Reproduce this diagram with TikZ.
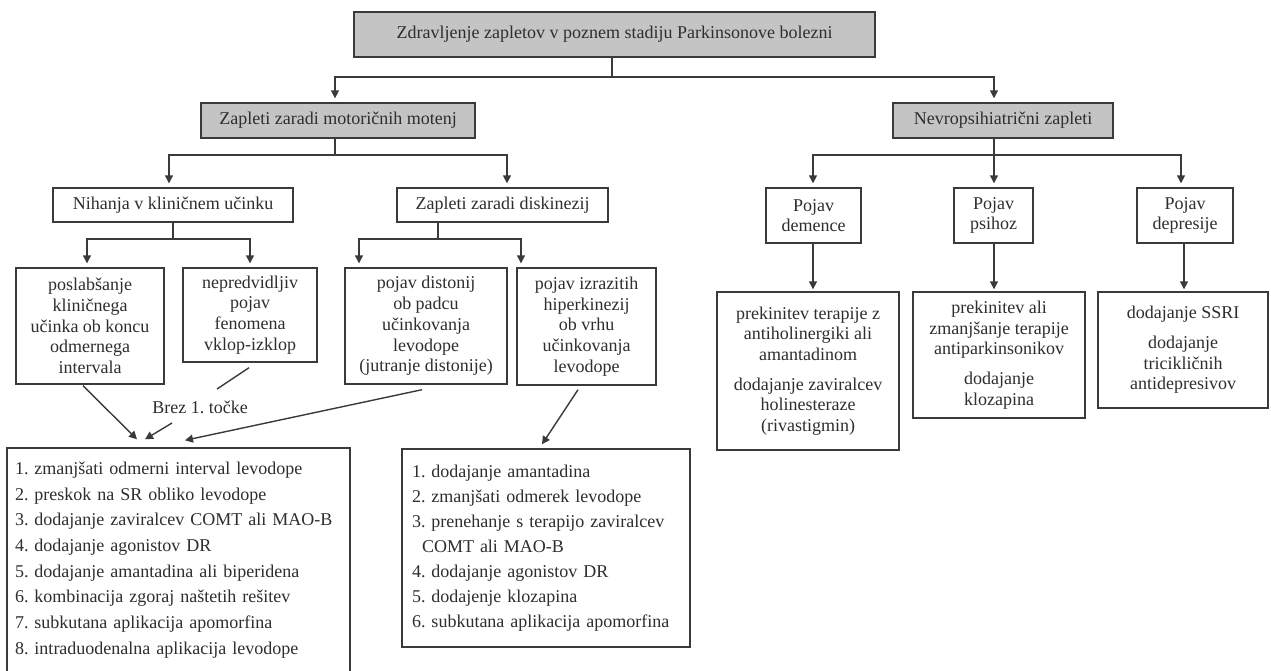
\documentclass[tikz,border=0pt]{standalone}
\usepackage{fontspec}
\setmainfont{Liberation Serif}
\usetikzlibrary{arrows.meta}
\definecolor{ln}{HTML}{3A3A3A}
\definecolor{tx}{HTML}{2E2E2E}
\definecolor{gf}{HTML}{C4C4C4}
\frenchspacing
\begin{document}
\begin{tikzpicture}[x=1pt,y=-1pt,
  box/.style={draw=ln, line width=1.4pt, inner sep=0pt, align=center, text=tx, font=\fontsize{18}{20.7}\selectfont},
  gbox/.style={box, fill=gf},
  listbox/.style={box, align=left, inner xsep=8pt},
  conn/.style={draw=ln, line width=1.4pt},
  arr/.style={conn, -{Triangle[length=8pt,width=8pt]}, shorten >=4pt},
  lbl/.style={text=tx, inner sep=0pt, font=\fontsize{18}{20.7}\selectfont},
]
\useasboundingbox (0,0) rectangle (1271,670);
\clip (0,0) rectangle (1271,670);
\fill[white] (0,0) rectangle (1271,670);

% level 0/1
\node[gbox, minimum width=521pt, minimum height=45pt] (top) at (614.5,34.5) {Zdravljenje zapletov v poznem stadiju Parkinsonove bolezni};
\node[gbox, minimum width=274pt, minimum height=35pt] (motor) at (338,120.5) {Zapleti zaradi motoričnih motenj};
\node[gbox, minimum width=220pt, minimum height=35pt] (nevro) at (1003,120.5) {Nevropsihiatrični zapleti};

% level 2
\node[box, minimum width=240pt, minimum height=34pt] (nih) at (173,205) {Nihanja v kliničnem učinku};
\node[box, minimum width=211pt, minimum height=34pt] (disk) at (502.5,205) {Zapleti zaradi diskinezij};
\node[box, minimum width=95pt, minimum height=55pt] (dem) at (813.5,215.5) {Pojav\\demence};
\node[box, minimum width=79pt, minimum height=55pt] (psi) at (993.5,215.5) {Pojav\\psihoz};
\node[box, minimum width=96pt, minimum height=55pt] (dep) at (1185,215.5) {Pojav\\depresije};

% level 3
\node[box, minimum width=148pt, minimum height=116pt] (posl) at (90,326) {poslabšanje\\kliničnega\\učinka ob koncu\\odmernega\\intervala};
\node[box, minimum width=134pt, minimum height=94pt] (nepr) at (250,315) {nepredvidljiv\\pojav\\fenomena\\vklop-izklop};
\node[box, minimum width=162pt, minimum height=116pt] (dist) at (426,326) {pojav distonij\\ob padcu\\učinkovanja\\levodope\\(jutranje distonije)};
\node[box, minimum width=139pt, minimum height=117pt] (hip) at (586.5,326.5) {pojav izrazitih\\hiperkinezij\\ob vrhu\\učinkovanja\\levodope};

\node[box, minimum width=182pt, minimum height=158pt] (demT) at (808,371) {prekinitev terapije z\\antiholinergiki ali\\amantadinom\\[9pt]dodajanje zaviralcev\\holinesteraze\\(rivastigmin)};
\node[box, minimum width=172pt, minimum height=126pt] (psiT) at (999,355) {prekinitev ali\\zmanjšanje terapije\\antiparkinsonikov\\[9pt]dodajanje\\klozapina};
\node[box, minimum width=170pt, minimum height=116pt] (depT) at (1183,350) {dodajanje SSRI\\[9pt]dodajanje\\tricikličnih\\antidepresivov};

% lists
\node[listbox, text width=327pt, minimum height=224pt, font=\fontsize{18}{25.7}\selectfont] (L1) at (178.5,560) {1. zmanjšati odmerni interval levodope\\2. preskok na SR obliko levodope\\3. dodajanje zaviralcev COMT ali MAO-B\\4. dodajanje agonistov DR\\5. dodajanje amantadina ali biperidena\\6. kombinacija zgoraj naštetih rešitev\\7. subkutana aplikacija apomorfina\\8. intraduodenalna aplikacija levodope};
\node[listbox, inner xsep=10pt, text width=268pt, minimum height=198pt, font=\fontsize{18}{25}\selectfont] (L2) at (546,548) {1. dodajanje amantadina\\2. zmanjšati odmerek levodope\\3. prenehanje s terapijo zaviralcev\\\hspace*{10pt}COMT ali MAO-B\\4. dodajanje agonistov DR\\5. dodajenje klozapina\\6. subkutana aplikacija apomorfina};

\node[lbl] (brez) at (200,407) {Brez 1. točke};

% junction and column coordinates
\coordinate (c0) at (612,77);
\coordinate (c1) at (335,155);
\coordinate (c2) at (994,155);
\coordinate (c3) at (173,239);
\coordinate (c4) at (438,239);
\coordinate (x169) at (169,0);
\coordinate (x507) at (507,0);
\coordinate (x813) at (813,0);
\coordinate (x1181) at (1181,0);
\coordinate (x87) at (87,0);
\coordinate (x250) at (250,0);
\coordinate (x359) at (359,0);
\coordinate (x521) at (521,0);
\coordinate (x1184) at (1184,0);

% tree connectors
\draw[conn] (c0 |- top.south) -- (c0);
\draw[arr] (c0) -| (c1 |- motor.north);
\draw[arr] (c0) -| (c2 |- nevro.north);

\draw[conn] (c1 |- motor.south) -- (c1);
\draw[arr] (c1) -| (x169 |- nih.north);
\draw[arr] (c1) -| (x507 |- disk.north);

\draw[conn] (c2 |- nevro.south) -- (c2);
\draw[arr] (c2) -| (x813 |- dem.north);
\draw[arr] (c2) -- (c2 |- psi.north);
\draw[arr] (c2) -| (x1181 |- dep.north);

\draw[conn] (c3 |- nih.south) -- (c3);
\draw[arr] (c3) -| (x87 |- posl.north);
\draw[arr] (c3) -| (x250 |- nepr.north);

\draw[conn] (c4 |- disk.south) -- (c4);
\draw[arr] (c4) -| (x359 |- dist.north);
\draw[arr] (c4) -| (x521 |- hip.north);

\draw[arr, shorten >=2pt] (x813 |- dem.south) -- (x813 |- demT.north);
\draw[arr, shorten >=2pt] (c2 |- psi.south) -- (c2 |- psiT.north);
\draw[arr, shorten >=2pt] (x1184 |- dep.south) -- (x1184 |- depT.north);

% diagonal connectors
\draw[arr, shorten >=0pt] ([xshift=-7pt,yshift=-1pt]posl.south) -- ([xshift=-41.5pt,yshift=8pt]L1.north);
\draw[conn] ([xshift=-1pt,yshift=-5pt]nepr.south) -- ([xshift=17pt,yshift=18pt]brez.center);
\draw[arr, shorten >=0pt] ([xshift=-28pt,yshift=-16pt]brez.center) -- ([xshift=-33.5pt,yshift=8pt]L1.north);
\draw[arr, shorten >=0pt] ([xshift=-4pt,yshift=-5pt]dist.south) -- ([xshift=6.5pt,yshift=7pt]L1.north);
\draw[arr, shorten >=0pt] ([xshift=-8.5pt,yshift=-4pt]hip.south) -- ([xshift=-4pt,yshift=4pt]L2.north);
\end{tikzpicture}
\end{document}
